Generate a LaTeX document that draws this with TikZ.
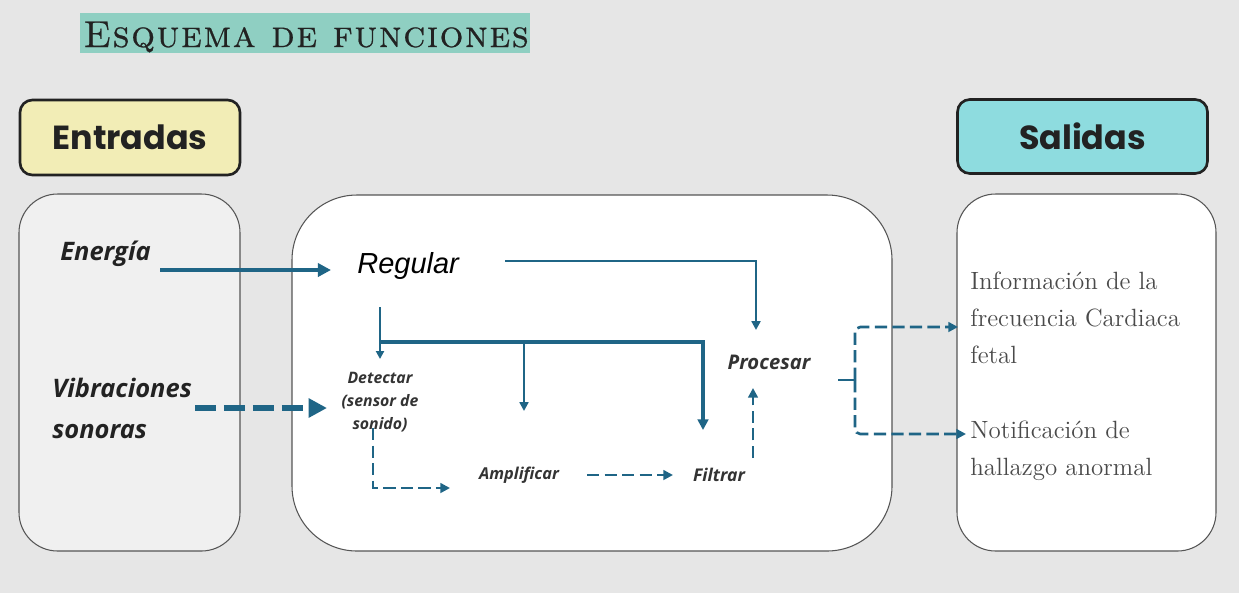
\documentclass[tikz,border=0pt]{standalone}
\usepackage{fontspec}
\usetikzlibrary{arrows.meta}
\newfontfamily\opsans{Open Sans}
\newfontfamily\popfont{Poppins}
\newfontfamily\arialf{Liberation Sans}
\newfontfamily\titlefont{lmromancaps10-regular.otf}[LetterSpace=4.0, FakeBold=0.6]
\definecolor{bgc}{HTML}{E6E6E6}
\definecolor{hlc}{HTML}{8FCFC2}
\definecolor{entc}{HTML}{F2EDB6}
\definecolor{salc}{HTML}{8EDCDF}
\definecolor{leftc}{HTML}{F0F0F0}
\definecolor{arrowc}{HTML}{1F6586}
\definecolor{boxdark}{HTML}{222222}
\definecolor{boxgrey}{HTML}{555555}
\definecolor{textdark}{HTML}{222222}
\definecolor{textgrey}{HTML}{333333}
\definecolor{sertext}{HTML}{4A4A4A}
\begin{document}
\begin{tikzpicture}[x=0.02cm,y=-0.02cm,
  labelbox/.style={draw=boxdark, line width=1.5pt, rounded corners=7pt,
    font=\popfont\bfseries\fontsize{19}{22}\selectfont, text=textdark},
  bigbox/.style={draw=boxgrey, line width=0.6pt},
  itl/.style={inner sep=0pt, text=textdark, font=\opsans\bfseries\itshape},
  sertx/.style={inner sep=0pt, text=sertext, align=left, font=\rmfamily\fontsize{14.2}{21}\selectfont},
  flow/.style={draw=arrowc},
  dashflow/.style={draw=arrowc, line width=1.5pt, dash pattern=on 7pt off 3pt},
  tip/.style={-{Triangle[length=#1,width=#1]}}
]
\fill[bgc] (0,0) rectangle (1239,593);
\useasboundingbox (0,0) rectangle (1239,593);

% title
\fill[hlc] (80,13) rectangle (530,53);
\node[anchor=base west, inner sep=0pt, text=textdark,
  font=\titlefont\fontsize{21.3}{25}\selectfont] (title) at (83,47) {Esquema de funciones};

% header boxes
\node[labelbox, fill=entc, minimum width=4.4cm, minimum height=1.5cm] (entradas) at (130,137.5) {Entradas};
\node[labelbox, fill=salc, minimum width=5.0cm, minimum height=1.48cm] (salidas) at (1082.5,136.5) {Salidas};

% big boxes
\draw[bigbox, fill=leftc, rounded corners=22pt] (19,194) rectangle (240,551);
\draw[bigbox, fill=white, rounded corners=37pt] (292,195) rectangle (892,551);
\draw[bigbox, fill=white, rounded corners=22pt] (957,194) rectangle (1216,551);

% input texts
\node[itl, anchor=base west, font=\opsans\bfseries\itshape\fontsize{14.5}{20}\selectfont] (energia) at (60,260) {Energía};
\node[itl, anchor=base west, align=left, font=\opsans\bfseries\itshape\fontsize{14.5}{22.8}\selectfont] (vib) at (52,438) {Vibraciones\\sonoras};

% process texts
\node[anchor=base west, inner sep=0pt, text=black, font=\arialf\itshape\fontsize{16.5}{20}\selectfont] (regular) at (357,273) {Regular};
\node[itl, text=textgrey, anchor=base, align=center, font=\opsans\bfseries\itshape\fontsize{9}{13}\selectfont] (detectar) at (380,429) {Detectar\\(sensor de\\sonido)};
\node[itl, text=textgrey, anchor=base, font=\opsans\bfseries\itshape\fontsize{9.3}{12}\selectfont] (amplificar) at (519,479) {Amplificar};
\node[itl, text=textgrey, anchor=base, font=\opsans\bfseries\itshape\fontsize{10}{12}\selectfont] (filtrar) at (719,481) {Filtrar};
\node[itl, text=textgrey, anchor=base, font=\opsans\bfseries\itshape\fontsize{11.5}{14}\selectfont] (procesar) at (769,369) {Procesar};

% output texts
\node[sertx, anchor=base west] (info) at (970,363) {Información de la\\frecuencia Cardiaca\\fetal};
\node[sertx, anchor=base west] (notif) at (970,475) {Notificación de\\hallazgo anormal};

% connector coordinates
\coordinate (eA) at (160,270);
\coordinate (eB) at (331,270);
\coordinate (vA) at (195,408);
\coordinate (vB) at (327,408);
\coordinate (rA) at (505,261);
\coordinate (rB) at (756,330);
\coordinate (tA) at (380,307);
\coordinate (tB) at (380,359);
\coordinate (tJ) at (380,342);
\coordinate (tF) at (703,430);
\coordinate (tM) at (524,342);
\coordinate (tAm) at (524,411);
\coordinate (dA) at (373,428);
\coordinate (dB) at (450,488);
\coordinate (aA) at (587,475);
\coordinate (aB) at (673,475);
\coordinate (fA) at (753,458);
\coordinate (fB) at (753,388);
\coordinate (pA) at (838,380);
\coordinate (pJ) at (855,380);
\coordinate (oA) at (958,327);
\coordinate (oB) at (966,434);

% connectors
\draw[flow, line width=2pt, tip=7.5pt] (eA) -- (eB);
\draw[flow, line width=3.2pt, dash pattern=on 12pt off 4.5pt, tip=10.5pt] (vA) -- (vB);
\draw[flow, line width=1.5pt, tip=5pt] (rA) -| (rB);
\draw[flow, line width=1.3pt, tip=4.5pt] (tA) -- (tB);
\draw[flow, line width=1.8pt, tip=6pt] (tJ) -| (tF);
\draw[flow, line width=1.5pt, tip=5pt] (tM) -- (tAm);
\draw[dashflow, tip=5.5pt] (dA) |- (dB);
\draw[dashflow, tip=5.5pt] (aA) -- (aB);
\draw[dashflow, tip=5.5pt] (fA) -- (fB);
\draw[flow, line width=1.4pt] (pA) -- (pJ);
\draw[dashflow, rounded corners=3pt, tip=5.5pt] (pJ) |- (oA);
\draw[dashflow, rounded corners=3pt, tip=5.5pt] (pJ) |- (oB);
\end{tikzpicture}
\end{document}
